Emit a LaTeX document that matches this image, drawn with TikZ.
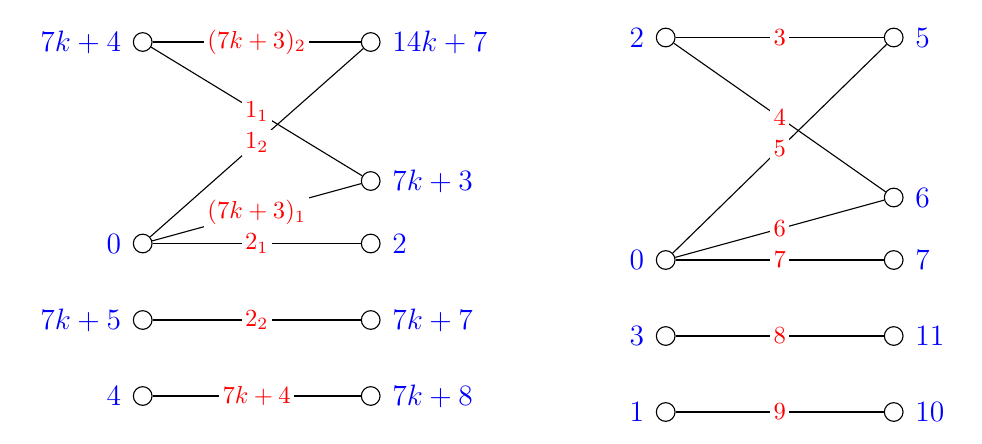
\documentclass[tikz,border=0pt]{standalone}
\begin{document}
\begin{tikzpicture}[x=0.4065pt,y=-0.4065pt,
  vtx/.style={circle,draw,line width=0.45pt,inner sep=0pt,minimum size=7.6pt},
  lbl/.style={text=blue,font=\large,inner sep=0pt},
  lleft/.style={lbl,anchor=east,xshift=-4.6pt},
  lright/.style={lbl,anchor=west,xshift=4.6pt},
  elbl/.style={midway,fill=white,text=red,inner sep=1.3pt},
  edge/.style={line width=0.45pt}]
\useasboundingbox (0,0) rectangle (982,444);
% ---------- left graph ----------
\node[vtx] (a1) at (142.7,42) {};
\node[vtx] (a2) at (142.7,243.5) {};
\node[vtx] (a3) at (142.7,320) {};
\node[vtx] (a4) at (142.7,396) {};
\node[vtx] (b1) at (370.7,42) {};
\node[vtx] (b2) at (370.7,181) {};
\node[vtx] (b3) at (370.7,243.5) {};
\node[vtx] (b4) at (370.7,320) {};
\node[vtx] (b5) at (370.7,396) {};
\node[lleft] (la1) at (a1.west) {$7k+4$};
\node[lleft] (la2) at (a2.west) {$0$};
\node[lleft] (la3) at (a3.west) {$7k+5$};
\node[lleft] (la4) at (a4.west) {$4$};
\node[lright] (lb1) at (b1.east) {$14k+7$};
\node[lright] (lb2) at (b2.east) {$7k+3$};
\node[lright] (lb3) at (b3.east) {$2$};
\node[lright] (lb4) at (b4.east) {$7k+7$};
\node[lright] (lb5) at (b5.east) {$7k+8$};
\draw[edge] (a1) -- node[elbl] (e1) {$(7k+3)_2$} (b1);
\draw[edge] (a1) -- node[elbl] (e2) {$1_1$} (b2);
\draw[edge] (a2) -- node[elbl] (e3) {$1_2$} (b1);
\draw[edge] (a2) -- node[elbl] (e4) {$(7k+3)_1$} (b2);
\draw[edge] (a2) -- node[elbl] (e5) {$2_1$} (b3);
\draw[edge] (a3) -- node[elbl] (e6) {$2_2$} (b4);
\draw[edge] (a4) -- node[elbl] (e7) {$7k+4$} (b5);
% ---------- right graph ----------
\node[vtx] (c1) at (665.7,37.5) {};
\node[vtx] (c2) at (665.7,260) {};
\node[vtx] (c3) at (665.7,336) {};
\node[vtx] (c4) at (665.7,412) {};
\node[vtx] (d1) at (893.7,37.5) {};
\node[vtx] (d2) at (893.7,197.5) {};
\node[vtx] (d3) at (893.7,260) {};
\node[vtx] (d4) at (893.7,336) {};
\node[vtx] (d5) at (893.7,412) {};
\node[lleft] (lc1) at (c1.west) {$2$};
\node[lleft] (lc2) at (c2.west) {$0$};
\node[lleft] (lc3) at (c3.west) {$3$};
\node[lleft] (lc4) at (c4.west) {$1$};
\node[lright] (ld1) at (d1.east) {$5$};
\node[lright] (ld2) at (d2.east) {$6$};
\node[lright] (ld3) at (d3.east) {$7$};
\node[lright] (ld4) at (d4.east) {$11$};
\node[lright] (ld5) at (d5.east) {$10$};
\draw[edge] (c1) -- node[elbl] (f1) {$3$} (d1);
\draw[edge] (c1) -- node[elbl] (f2) {$4$} (d2);
\draw[edge] (c2) -- node[elbl] (f3) {$5$} (d1);
\draw[edge] (c2) -- node[elbl] (f4) {$6$} (d2);
\draw[edge] (c2) -- node[elbl] (f5) {$7$} (d3);
\draw[edge] (c3) -- node[elbl] (f6) {$8$} (d4);
\draw[edge] (c4) -- node[elbl] (f7) {$9$} (d5);
\end{tikzpicture}
\end{document}
